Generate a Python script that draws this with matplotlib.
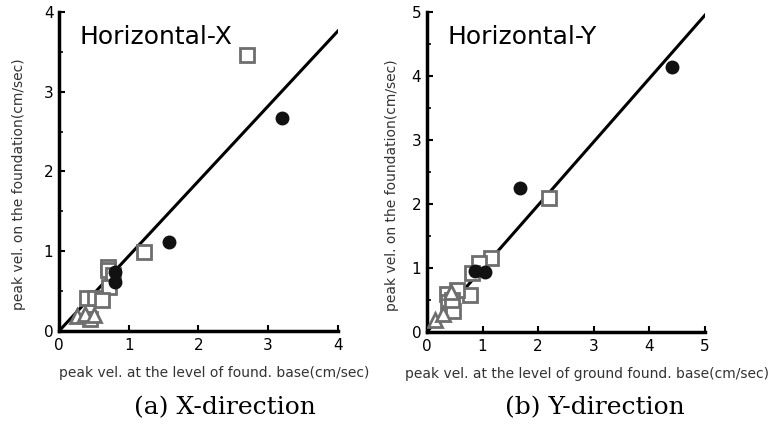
import matplotlib
matplotlib.use("Agg")
import matplotlib.pyplot as plt

# --- data: X-direction ---
x_circ = [0.80, 0.80, 1.58, 3.20]
y_circ = [0.74, 0.62, 1.12, 2.67]
x_sq = [2.70, 1.22, 0.70, 0.71, 0.78, 0.72, 0.40, 0.52, 0.62, 0.44]
y_sq = [3.46, 0.99, 0.80, 0.76, 0.70, 0.55, 0.41, 0.41, 0.39, 0.15]
x_tri = [0.26, 0.37, 0.50]
y_tri = [0.19, 0.21, 0.20]
slope_x = 0.94

# --- data: Y-direction ---
yx_circ = [0.86, 1.04, 1.67, 4.40]
yy_circ = [0.95, 0.93, 2.25, 4.14]
yx_sq = [2.20, 1.16, 0.93, 0.81, 0.77, 0.36, 0.54, 0.38, 0.47, 0.45]
yy_sq = [2.10, 1.16, 1.07, 0.92, 0.58, 0.60, 0.66, 0.46, 0.33, 0.50]
yx_tri = [0.14, 0.29, 0.44]
yy_tri = [0.18, 0.28, 0.62]
slope_y = 0.99

gray = "#6e6e6e"

fig = plt.figure(figsize=(7.79, 4.25), dpi=100)
ax1 = fig.add_axes([0.0757, 0.221, 0.358, 0.751])
ax2 = fig.add_axes([0.548, 0.219, 0.357, 0.753])


def draw(ax, xc, yc, xs, ys, xt, yt, slope, lim, title, xlabel, caption, cx, lx, ly):
    ax.plot([0, lim], [0, slope * lim], color="black", lw=2.2, zorder=1)
    ax.plot(xs, ys, "s", ms=10, mfc="white", mec=gray, mew=2, ls="none", zorder=2)
    ax.plot(xt, yt, "^", ms=10, mfc="white", mec=gray, mew=2, ls="none", zorder=3)
    ax.plot(xc, yc, "o", ms=9, color="#111111", ls="none", zorder=4)
    ax.set_xlim(0, lim)
    ax.set_ylim(0, lim)
    ax.set_xticks(range(lim + 1))
    ax.set_yticks(range(lim + 1))
    ax.set_yticks([i + 0.5 for i in range(lim)], minor=True)
    for s in ["top", "right"]:
        ax.spines[s].set_visible(False)
    for s in ["left", "bottom"]:
        ax.spines[s].set_linewidth(2.5)
    ax.tick_params(direction="in", length=4, width=1.5, labelsize=11)
    ax.tick_params(axis="x", pad=5)
    ax.tick_params(axis="y", pad=4)
    ax.tick_params(which="minor", direction="in", length=3, width=1.2)
    ax.set_xlabel(xlabel, fontsize=10, color="#333333")
    ax.xaxis.set_label_coords(lx, -0.11)
    ax.set_ylabel("peak vel. on the foundation(cm/sec)", fontsize=10, color="#333333")
    ax.yaxis.set_label_coords(ly, 0.46)
    ax.text(0.075, 0.96, title, transform=ax.transAxes, fontsize=18, va="top", ha="left")
    fig.text(cx, 0.04, caption, fontsize=18, family="DejaVu Serif", ha="center", va="center")


draw(ax1, x_circ, y_circ, x_sq, y_sq, x_tri, y_tri, slope_x, 4, "Horizontal-X",
     "peak vel. at the level of found. base(cm/sec)", "(a) X-direction", 0.289, 0.556, -0.12)
draw(ax2, yx_circ, yy_circ, yx_sq, yy_sq, yx_tri, yy_tri, slope_y, 5, "Horizontal-Y",
     "peak vel. at the level of ground found. base(cm/sec)", "(b) Y-direction", 0.764, 0.575, -0.10)

fig.savefig("out.png", dpi=100)
